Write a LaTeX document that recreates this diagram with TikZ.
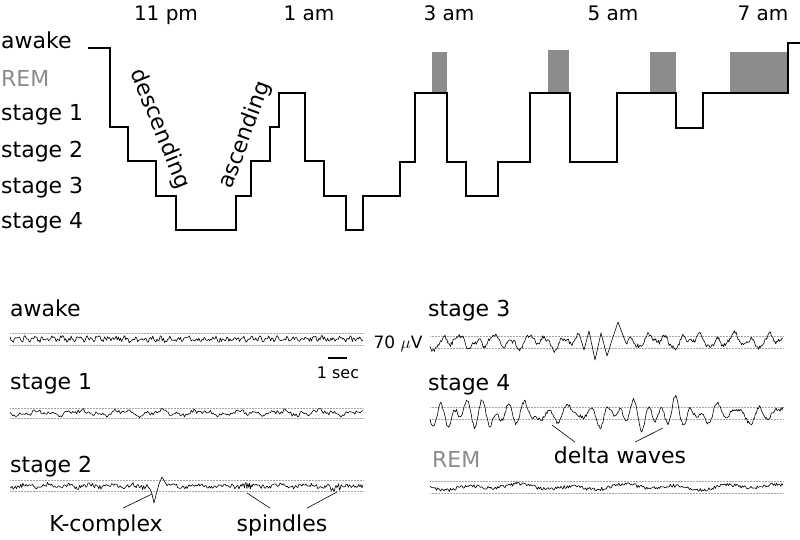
\documentclass[tikz,border=0pt]{standalone}
\usepackage{fontspec}
\setmainfont{DejaVu Sans}
\definecolor{remgray}{HTML}{8C8C8C}
\begin{document}
\begin{tikzpicture}[x=1pt, y=-1pt]
    \begin{scope}
        \tikzset{every node/.style={inner sep=0pt, font=\fontsize{22}{26}\selectfont},
            stage label/.style={anchor=base west},
            time label/.style={anchor=base, font=\fontsize{20}{24}\selectfont},
            small label/.style={anchor=base, font=\fontsize{16}{18}\selectfont},
            rem block/.style={fill=remgray, draw=none},
            hypno/.style={line width=1.6pt, line join=miter},
            eeg/.style={line width=0.6pt, line join=round},
            bound/.style={densely dotted, gray!70, line width=0.5pt},
            leader/.style={line width=0.6pt}}
        \useasboundingbox (0,0) rectangle (800,539);
        \pgfmathsetseed{4711}

        % Label the clock times
        \node [time label] (t11) at (166,20) {11 pm};
        \node [time label] (t1) at (309,20) {1 am};
        \node [time label] (t3) at (449,20) {3 am};
        \node [time label] (t5) at (613,20) {5 am};
        \node [time label] (t7) at (763,20) {7 am};

        % Label the sleep levels
        \node [stage label] (hawake) at (1,48) {awake};
        \node [stage label, text=remgray] (hrem) at (1,86) {REM};
        \node [stage label] (hs1) at (1,120) {stage 1};
        \node [stage label] (hs2) at (1,157) {stage 2};
        \node [stage label] (hs3) at (1,193) {stage 3};
        \node [stage label] (hs4) at (1,228) {stage 4};

        % REM periods
        \fill [rem block] (432,52) rectangle (447,93);
        \fill [rem block] (548,50) rectangle (569,93);
        \fill [rem block] (650,52) rectangle (676,93);
        \fill [rem block] (730,52) rectangle (788,93);

        % Draw the hypnogram
        \draw [hypno] (88,48) -| (110,127) -| (128,161) -| (156,196) -| (176,230)
            -| (236,196) -| (251,161) -| (270,127) -| (279,93) -| (305,161)
            -| (324,196) -| (346,230) -| (363,196) -| (400,162) -| (415,93)
            -| (447,162) -| (466,196) -| (498,162) -| (530,93) -| (570,162)
            -| (617,93) -| (676,128) -| (703,93) -| (788,43) -- (800,43);

        \node [rotate=-68] (desc) at (160,129) {descending};
        \node [rotate=70] (asc) at (245,135) {ascending};

        % Dotted bounds of the traces
        \foreach \yb in {333,345,408,418,480,491}
            \draw [bound] (10,\yb) -- (363,\yb);
        \foreach \yb in {336,348,407,419,481,493}
            \draw [bound] (430,\yb) -- (783,\yb);

        % Label the traces
        \node [stage label] (eawake) at (10,316) {awake};
        \node [stage label] (es1) at (10,389) {stage 1};
        \node [stage label] (es2) at (10,472) {stage 2};
        \node [stage label] (es3) at (428,316) {stage 3};
        \node [stage label] (es4) at (428,390) {stage 4};
        \node [stage label, text=remgray] (erem) at (432,467) {REM};

        % Scale
        \node [small label, font=\fontsize{17}{20}\selectfont] (volt) at (398,348) {70 $\mu$V};
        \node [small label] (sec) at (338,378) {1 sec};
        \draw [line width=1.2pt] (328,358) -- (347,358);

        % awake
        \draw [eeg] plot[domain=10:363, samples=330]
            (\x,{339 + 2.6*rand + 1.2*sin(40*(\x-10))});
        % stage 1
        \draw [eeg] plot[domain=10:363, samples=260]
            (\x,{413 + 2*rand + 1.8*sin(9*(\x-10)) + 1.4*sin(23*(\x-10)+30)});
        % stage 2 with K-complex and spindles
        \draw [eeg] plot[domain=10:148, samples=130]
            (\x,{486 + 2.2*rand + 1.5*sin(17*(\x-10))})
            -- (150,489) -- (152,494) -- (154,503) -- (156,495) -- (159,484)
            -- (162,477) -- (165,482)
            -- plot[domain=167:240, samples=70] (\x,{486 + 2*rand + 1.2*sin(13*(\x-10))})
            -- plot[domain=241:252, samples=14] (\x,{486 + 3.5*rand})
            -- plot[domain=253:330, samples=75] (\x,{486 + 2*rand + 1.2*sin(13*(\x-10))})
            -- plot[domain=331:342, samples=14] (\x,{487 + 4*rand})
            -- plot[domain=343:363, samples=20] (\x,{486 + 2*rand});
        % stage 3
        \draw [eeg] plot[domain=430:580, samples=170]
            (\x,{342 + 4.5*sin(21*(\x-430)) + 3.5*sin(9*(\x-430)+50) + 1.5*sin(41*(\x-430)) + 2*rand})
            -- (584,350) -- (589,331) -- (595,360) -- (601,333) -- (607,356)
            -- (612,340) -- (618,322) -- (624,338)
            -- plot[domain=626:783, samples=175]
            (\x,{341 + 4.5*sin(21*(\x-430)) + 3.5*sin(9*(\x-430)+50) + 1.5*sin(41*(\x-430)) + 2*rand});
        % stage 4
        \draw [eeg] plot[domain=430:783, samples=360]
            (\x,{414 + (6+4*sin(2*(\x-430)))*sin(26*(\x-430)) + 6*sin(17*(\x-430)+70) + 3*sin(7*(\x-430)) + 1.8*rand});
        % REM
        \draw [eeg] plot[domain=430:783, samples=330]
            (\x,{487 + 1.8*rand + 2*sin(7*(\x-430)) + 1.4*sin(3*(\x-430)+20)});

        % Point out the features
        \node [anchor=base] (kcomplex) at (106,531) {K-complex};
        \node [anchor=base] (spindles) at (282,531) {spindles};
        \node [anchor=base] (delta) at (620,463) {delta waves};
        \coordinate (kcTip) at (152,494);
        \coordinate (spA) at (247,493);
        \coordinate (spB) at (337,492);
        \coordinate (dwA) at (552,425);
        \coordinate (dwB) at (663,428);
        \draw [leader] ([xshift=17pt, yshift=6pt]kcomplex.north) -- (kcTip);
        \draw [leader] ([xshift=-12pt, yshift=6pt]spindles.north) -- (spA);
        \draw [leader] ([xshift=25pt, yshift=6pt]spindles.north) -- (spB);
        \draw [leader] ([xshift=-45pt, yshift=4pt]delta.north) -- (dwA);
        \draw [leader] ([xshift=15pt, yshift=4pt]delta.north) -- (dwB);
    \end{scope}
\end{tikzpicture}
\end{document}
